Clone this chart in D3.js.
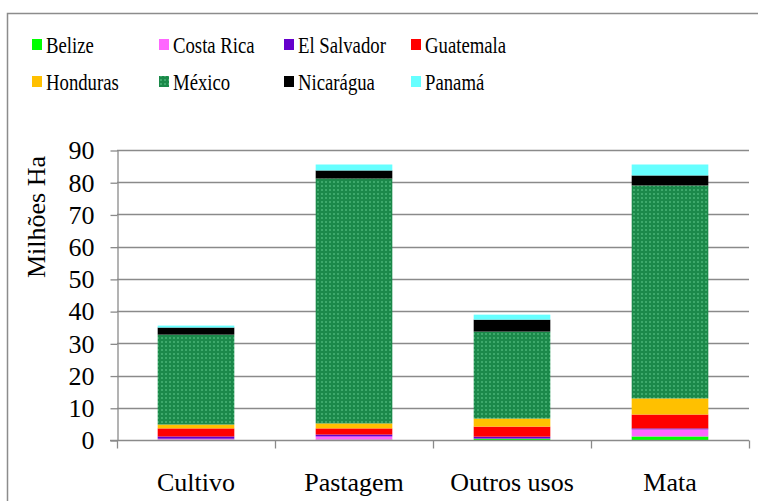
<!DOCTYPE html>
<html>
<head>
<meta charset="utf-8">
<script src="https://d3js.org/d3.v7.min.js"></script>
<style>
  body { margin: 0; background: #fff; }
  text { font-family: "Liberation Serif", "Times New Roman", serif; fill: #000; }
</style>
</head>
<body>
<div id="chart"></div>
<script>
// data (milhões de ha)
const categories = ["Cultivo", "Pastagem", "Outros usos", "Mata"];
const countries = ["Belize", "Costa Rica", "El Salvador", "Guatemala", "Honduras", "México", "Nicarágua", "Panamá"];
const belize     = [0.1, 0.1, 0.4, 1.1];
const costaRica  = [0.3, 1.0, 0.05, 2.2];
const elSalvador = [0.7, 0.6, 0.6, 0.3];
const guatemala  = [2.5, 1.9, 3.1, 4.3];
const honduras   = [1.2, 1.55, 2.5, 5.0];
const mexico     = [27.9, 76.0, 27.0, 66.1];
const nicaragua  = [2.2, 2.5, 3.7, 3.1];
const panama     = [0.6, 1.85, 1.55, 3.4];
const yTicks = [0, 10, 20, 30, 40, 50, 60, 70, 80, 90];

const seriesValues = [belize, costaRica, elSalvador, guatemala, honduras, mexico, nicaragua, panama];
const colors = ["#00ff00", "#ff66ff", "#6600cc", "#ff0000", "#ffc000", "url(#mex)", "#000000", "#66ffff"];

// table for d3.stack
const data = categories.map((c, i) => {
  const row = {cat: c};
  countries.forEach((k, j) => row[k] = seriesValues[j][i]);
  return row;
});

const W = 758, H = 501;
const margin = {top: 150, right: 9, bottom: 61, left: 117};

const svg = d3.select("#chart")
  .append("svg")
    .attr("width", W)
    .attr("height", H);

// pattern for México
const pat = svg.append("defs").append("pattern")
    .attr("id", "mex")
    .attr("patternUnits", "userSpaceOnUse")
    .attr("width", 4).attr("height", 4);
pat.append("rect").attr("width", 4).attr("height", 4).attr("fill", "#1b894a");
pat.append("rect").attr("x", 1).attr("y", 1).attr("width", 2).attr("height", 2).attr("fill", "#3da96b");

// outer frame
svg.append("rect")
    .attr("x", 7.5).attr("y", 13.5)
    .attr("width", 900).attr("height", 700)
    .attr("fill", "none")
    .attr("stroke", "#8c8c8c")
    .attr("stroke-width", 1.5);

const x = d3.scaleBand()
    .domain(categories)
    .range([margin.left, W - margin.right])
    .paddingInner(0.515)
    .paddingOuter(0.2575);

const y = d3.scaleLinear()
    .domain([0, 90])
    .range([H - margin.bottom, margin.top]);

// gridlines
svg.append("g")
  .selectAll("line")
  .data(yTicks.slice(1))
  .join("line")
    .attr("x1", margin.left).attr("x2", W - margin.right)
    .attr("y1", d => Math.round(y(d)) + 0.5).attr("y2", d => Math.round(y(d)) + 0.5)
    .attr("stroke", "#8a8a8a")
    .attr("stroke-width", 1.3);

// y axis
const yAxis = svg.append("g")
    .attr("transform", `translate(${margin.left + 0.5},0.5)`)
    .call(d3.axisLeft(y).tickValues(yTicks).tickSize(7).tickPadding(16).tickSizeOuter(0));
yAxis.select(".domain").attr("stroke", "#8a8a8a").attr("stroke-width", 1.3);
yAxis.selectAll(".tick line").attr("stroke", "#8a8a8a").attr("stroke-width", 1.3);
yAxis.selectAll(".tick text")
    .attr("font-family", null)
    .style("font-size", "26px");

// bars
const stacked = d3.stack().keys(countries)(data);
svg.append("g")
  .selectAll("g")
  .data(stacked)
  .join("g")
    .attr("fill", (d, i) => colors[i])
  .selectAll("rect")
  .data(d => d)
  .join("rect")
    .attr("x", d => x(d.data.cat))
    .attr("y", d => y(d[1]))
    .attr("width", x.bandwidth())
    .attr("height", d => y(d[0]) - y(d[1]));

// x axis with ticks on band boundaries
const y0 = Math.round(y(0)) + 0.5;
svg.append("line")
    .attr("x1", margin.left - 7).attr("x2", W - margin.right)
    .attr("y1", y0).attr("y2", y0)
    .attr("stroke", "#8a8a8a").attr("stroke-width", 1.3);
const bounds = categories.map(c => x(c) - x.step() * x.paddingOuter()).concat([W - margin.right]);
svg.append("g")
  .selectAll("line")
  .data(bounds)
  .join("line")
    .attr("x1", d => Math.round(d) + 0.5).attr("x2", d => Math.round(d) + 0.5)
    .attr("y1", y0).attr("y2", y0 + 8)
    .attr("stroke", "#8a8a8a").attr("stroke-width", 1.3);

svg.append("g")
  .selectAll("text")
  .data(categories)
  .join("text")
    .attr("x", d => x(d) + x.bandwidth() / 2)
    .attr("y", 491)
    .attr("text-anchor", "middle")
    .style("font-size", "26px")
    .text(d => d);

// y label
svg.append("text")
    .attr("transform", "translate(45,217) rotate(-90)")
    .attr("text-anchor", "middle")
    .style("font-size", "26px")
    .text("Milhões Ha");

// legend
const legendX = [32, 159, 284, 411];
const legendY = [45, 82];
const legend = svg.append("g")
  .selectAll("g")
  .data(countries)
  .join("g")
    .attr("transform", (d, i) => `translate(${legendX[i % 4]},${legendY[Math.floor(i / 4)]})`);
legend.append("rect")
    .attr("x", 0).attr("y", -6)
    .attr("width", 10).attr("height", 11)
    .attr("fill", (d, i) => colors[i]);
legend.append("text")
    .attr("x", 14).attr("y", 8)
    .attr("font-family", "Liberation Serif")
    .style("font-size", "24px")
    .text(d => d)
    .each(function() {
      // condensed like the original legend
      const w = this.getComputedTextLength();
      d3.select(this).attr("textLength", w * 0.78).attr("lengthAdjust", "spacingAndGlyphs");
    });
</script>
</body>
</html>
